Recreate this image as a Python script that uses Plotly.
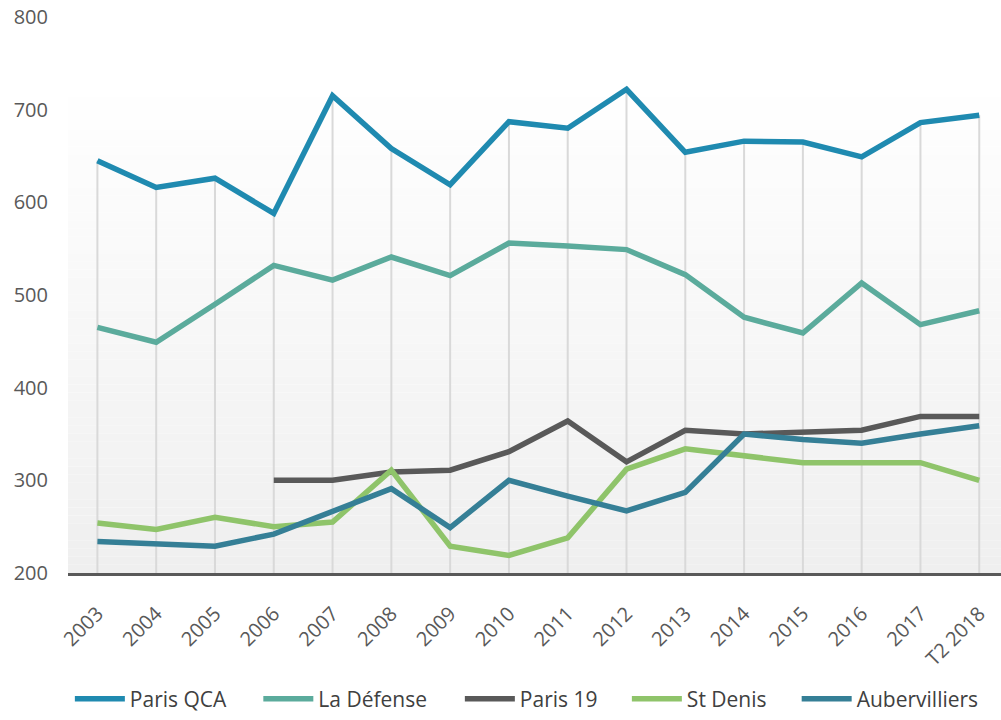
import plotly.graph_objects as go

years = ["2003", "2004", "2005", "2006", "2007", "2008", "2009", "2010",
         "2011", "2012", "2013", "2014", "2015", "2016", "2017", "T2 2018"]

paris_qca = [645, 616, 626, 588, 715, 658, 619, 687, 680, 722, 654, 666, 665, 649, 686, 694]
la_defense = [465, 449, 490, 532, 516, 541, 521, 556, 553, 549, 522, 476, 459, 513, 468, 483]
paris_19 = [None, None, None, 300, 300, 309, 311, 331, 364, 320, 354, 350, 352, 354, 369, 369]
st_denis = [254, 247, 260, 250, 255, 311, 229, 219, 238, 312, 334, 326, 319, 319, 319, 300]
aubervilliers = [234, 232, 229, 242, 267, 291, 249, 300, 283, 267, 287, 350, 344, 340, 350, 359]

series = [
    ("Paris QCA", paris_qca, "#1f8ab0"),
    ("La Défense", la_defense, "#5bab9c"),
    ("Paris 19", paris_19, "#595959"),
    ("St Denis", st_denis, "#8fc46a"),
    ("Aubervilliers", aubervilliers, "#357f96"),
]

# left edge of each legend entry, as a fraction of the plot width
legend_x = [0.002, 0.204, 0.420, 0.599, 0.781]

y_min, y_max = 200, 800

fig = go.Figure()

# drop lines: from the axis up to the highest series at each year
drop_x, drop_y = [], []
for i, yr in enumerate(years):
    top = max(v[i] for _, v, _ in series if v[i] is not None)
    drop_x += [yr, yr, None]
    drop_y += [y_min, top, None]
fig.add_trace(go.Scatter(x=drop_x, y=drop_y, mode="lines",
                         line=dict(color="#d9d9d9", width=2),
                         showlegend=False, hoverinfo="skip"))

legends = {}
for i, (name, vals, color) in enumerate(series):
    key = "legend" if i == 0 else f"legend{i + 1}"
    fig.add_trace(go.Scatter(x=years, y=vals, name=name, mode="lines",
                             line=dict(color=color, width=5.5), legend=key))
    legends[key] = dict(x=legend_x[i], xanchor="left", y=-0.19, yanchor="top",
                        font=dict(size=21, color="#404040"),
                        bgcolor="rgba(0,0,0,0)", itemwidth=50)

# soft vertical gradient behind the plot
shapes = []
n_bands = 60
top_frac = 0.885
for k in range(n_bands):
    y0 = top_frac * k / n_bands
    y1 = top_frac * (k + 1) / n_bands
    g = int(round(0xef + (0xff - 0xef) * (k + 0.5) / n_bands))
    shapes.append(dict(type="rect", xref="paper", yref="paper",
                       x0=0, x1=1, y0=y0, y1=y1, layer="below",
                       line=dict(width=0),
                       fillcolor=f"rgb({g},{g},{g})"))

fig.update_layout(
    width=1001, height=720,
    margin=dict(l=68, r=0, t=17, b=147),
    paper_bgcolor="white",
    plot_bgcolor="white",
    font=dict(family="Open Sans", color="#595959", size=20),
    shapes=shapes,
    showlegend=True,
    **legends,
)
fig.update_xaxes(
    type="category", categoryorder="array", categoryarray=years,
    range=[-0.5, 15.37], showgrid=False, zeroline=False, automargin=False,
    showline=True, linecolor="#595959", linewidth=3,
    tickangle=-45, tickfont=dict(size=20), ticks="", ticklabelstandoff=18,
)
fig.update_yaxes(
    range=[y_min, y_max], dtick=100, showgrid=False, zeroline=False,
    automargin=False, showline=False, ticks="", tickfont=dict(size=20),
    ticklabelstandoff=19,
)

fig.write_html("out.html", config={"displayModeBar": False},
               post_script="document.body.style.margin = '0';")
